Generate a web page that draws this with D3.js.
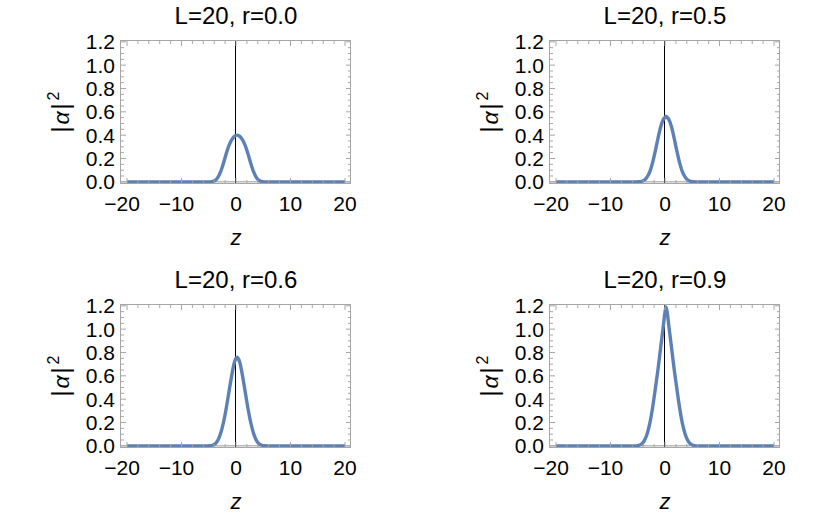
<!DOCTYPE html>
<html lang="en">
<head>
  <meta charset="UTF-8">
  <title>|alpha|^2 profiles</title>
  <style>
    body { margin: 0; background: #fff; }
    text { font-family: 'Liberation Sans', Arial, sans-serif; }
  </style>
</head>
<body>
  <svg id="svg" width="830" height="515"></svg>

  <script src="https://d3js.org/d3.v7.min.js"></script>
  <script>
    // panel titles, in reading order
    const titles = ['L=20, r=0.0', 'L=20, r=0.5', 'L=20, r=0.6', 'L=20, r=0.9']

    // z positions (peak sits a little right of 0)
    const zValues = [-20, -5.3, -4.8, -4.3, -3.8, -3.3, -2.8, -2.3, -1.8, -1.3, -0.8, -0.3, -0.05,
      0.2, 0.45, 0.7, 1.2, 1.7, 2.2, 2.7, 3.2, 3.7, 4.2, 4.7, 5.2, 5.7, 20]

    // |alpha|^2 at those z, one list per panel
    const r00 = [0, 0, 0, 0.003, 0.012, 0.04, 0.09, 0.16, 0.24, 0.31, 0.36, 0.39, 0.397,
      0.40, 0.397, 0.39, 0.36, 0.31, 0.24, 0.16, 0.09, 0.04, 0.012, 0.003, 0, 0, 0]
    const r05 = [0, 0, 0.001, 0.004, 0.014, 0.04, 0.085, 0.16, 0.26, 0.37, 0.47, 0.535, 0.55,
      0.56, 0.55, 0.535, 0.47, 0.37, 0.26, 0.16, 0.085, 0.04, 0.014, 0.004, 0.001, 0, 0]
    const r06 = [0, 0, 0.001, 0.005, 0.018, 0.05, 0.11, 0.20, 0.32, 0.46, 0.60, 0.715, 0.745,
      0.76, 0.745, 0.715, 0.60, 0.46, 0.32, 0.20, 0.11, 0.05, 0.018, 0.005, 0.001, 0, 0]
    const r09 = [0, 0, 0.004, 0.015, 0.045, 0.10, 0.19, 0.32, 0.48, 0.65, 0.84, 1.03, 1.13,
      1.19, 1.13, 1.03, 0.84, 0.65, 0.48, 0.32, 0.19, 0.10, 0.045, 0.015, 0.004, 0, 0]
    const series = [r00, r05, r06, r09]

    const xTicks = [-20, -10, 0, 10, 20]
    const xMinor = d3.range(-20, 21, 2)
    const yTicks = [0, 0.2, 0.4, 0.6, 0.8, 1.0, 1.2]
    const yMinor = d3.range(0, 1.21, 0.05)

    const plotW = 230, plotH = 142
    const colX = [121, 550], rowY = [41, 305]

    const x = d3.scaleLinear().domain([-21.1, 21.1]).range([0, plotW])
    const y = d3.scaleLinear().domain([-0.01, 1.207]).range([plotH, 0])

    const frameColor = '#a6a6a6'
    const svg = d3.select('#svg')

    const line = d3.line()
      .x((d, i) => x(zValues[i]))
      .y(d => y(d))
      .curve(d3.curveMonotoneX)

    titles.forEach((title, k) => {
      const g = svg.append('g')
        .attr('transform', `translate(${colX[k % 2]},${rowY[Math.floor(k / 2)]})`)

      // title
      g.append('text')
        .attr('x', plotW / 2)
        .attr('y', -17)
        .attr('text-anchor', 'middle')
        .style('font-size', '24px')
        .text(title)

      // horizontal axis at 0 (gray) and vertical axis at z=0 (black)
      g.append('line')
        .attr('x1', 0).attr('x2', plotW)
        .attr('y1', y(0)).attr('y2', y(0))
        .attr('stroke', '#999').attr('stroke-width', 1)
      g.append('line')
        .attr('x1', Math.round(x(0)) - 0.5).attr('x2', Math.round(x(0)) - 0.5)
        .attr('y1', 0).attr('y2', plotH)
        .attr('stroke', '#000').attr('stroke-width', 1)

      // curve
      g.append('path')
        .datum(series[k])
        .attr('d', line)
        .attr('fill', 'none')
        .attr('stroke', '#5e81b5')
        .attr('stroke-width', 3.4)
        .attr('stroke-linejoin', 'round')

      // frame
      g.append('rect')
        .attr('x', -0.5).attr('y', -0.5)
        .attr('width', plotW).attr('height', plotH + 1)
        .attr('fill', 'none')
        .attr('stroke', frameColor).attr('stroke-width', 1)

      // ticks on all four sides, pointing inward
      const tk = g.append('g').attr('stroke', frameColor).attr('stroke-width', 1)
      xMinor.forEach(v => {
        const len = xTicks.includes(v) ? 5 : 3
        tk.append('line').attr('x1', x(v)).attr('x2', x(v)).attr('y1', plotH).attr('y2', plotH - len)
        tk.append('line').attr('x1', x(v)).attr('x2', x(v)).attr('y1', 0).attr('y2', len)
      })
      yMinor.forEach(v => {
        const major = yTicks.some(t => Math.abs(t - v) < 1e-6)
        const len = major ? 5 : 3
        tk.append('line').attr('x1', 0).attr('x2', len).attr('y1', y(v)).attr('y2', y(v))
        tk.append('line').attr('x1', plotW).attr('x2', plotW - len).attr('y1', y(v)).attr('y2', y(v))
      })

      // tick labels
      g.selectAll('.xl')
        .data(xTicks)
        .enter()
        .append('text')
        .attr('x', d => x(d) - (d < 0 ? 5 : 0))
        .attr('y', plotH + 28)
        .attr('text-anchor', 'middle')
        .style('font-size', '21px')
        .text(d => d < 0 ? '\u2212' + Math.abs(d) : d)

      g.selectAll('.yl')
        .data(yTicks)
        .enter()
        .append('text')
        .attr('x', -6)
        .attr('y', d => y(d))
        .attr('dy', '0.35em')
        .attr('text-anchor', 'end')
        .style('font-size', '21px')
        .text(d => d.toFixed(1))

      // axis labels
      g.append('text')
        .attr('x', plotW / 2)
        .attr('y', plotH + 62)
        .attr('text-anchor', 'middle')
        .style('font-size', '22px')
        .style('font-style', 'italic')
        .text('z')

      const yl = g.append('text')
        .attr('transform', `translate(-52,${plotH / 2}) rotate(-90)`)
        .attr('text-anchor', 'middle')
        .style('font-size', '23px')
      yl.append('tspan').text('|')
      yl.append('tspan').attr('dx', 2).style('font-style', 'italic').text('\u03b1')
      yl.append('tspan').attr('dx', 2).text('|')
      yl.append('tspan').attr('dx', 3).attr('dy', -10).style('font-size', '16px').text('2')
    })
  </script>
</body>
</html>
